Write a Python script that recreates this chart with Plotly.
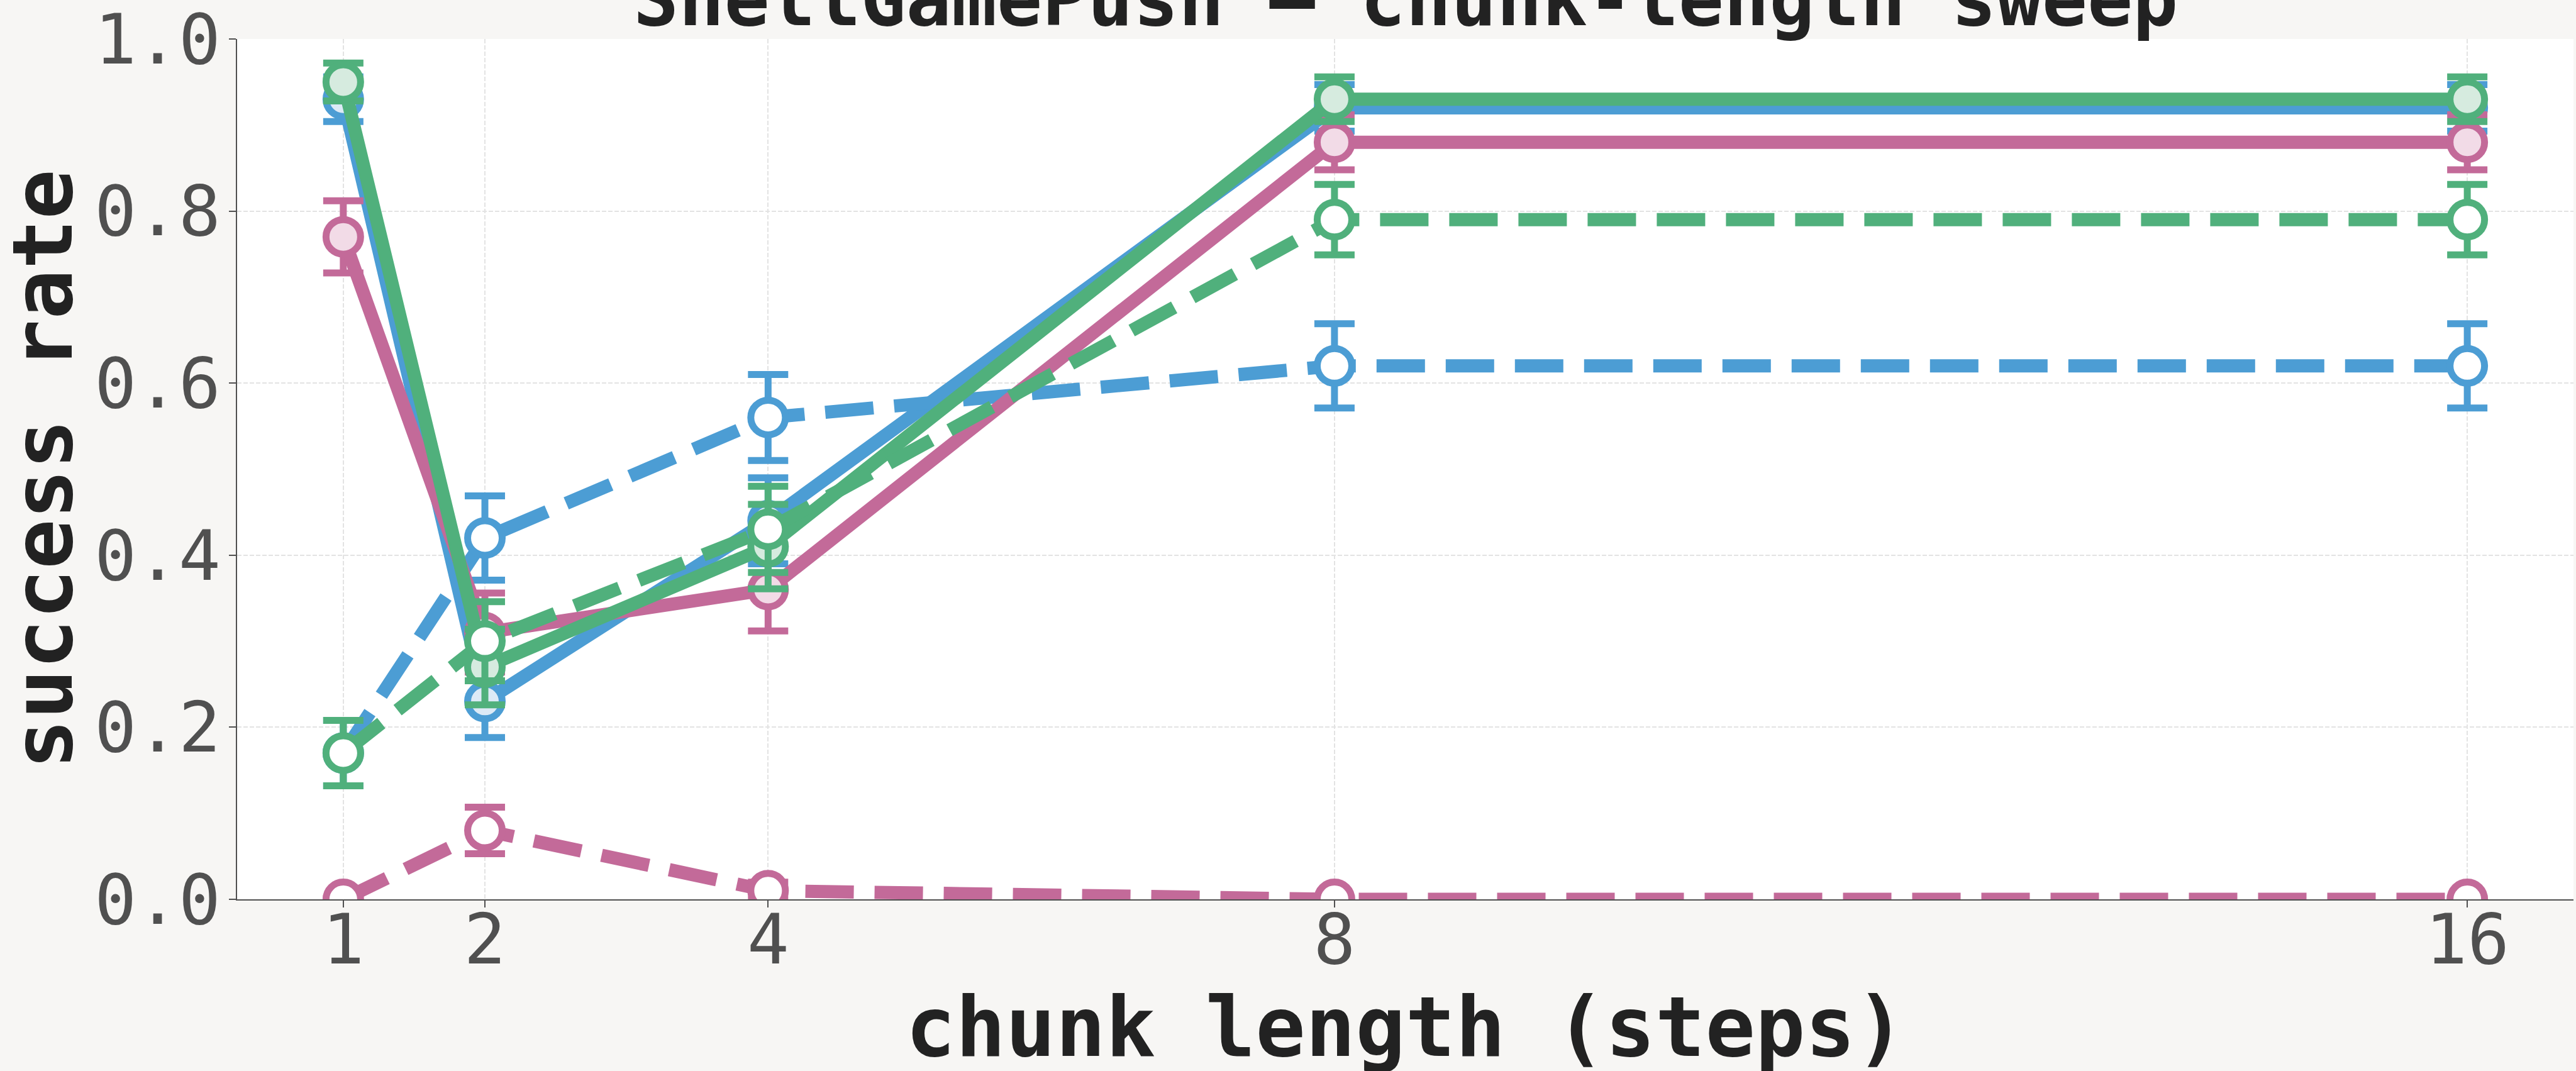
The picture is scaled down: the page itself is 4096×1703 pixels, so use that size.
import plotly.graph_objects as go

# ---------------- data ----------------
chunk_lengths = [1, 2, 4, 8, 16]
y_tick_vals = [0.0, 0.2, 0.4, 0.6, 0.8, 1.0]
y_tick_text = ["0.0", "0.2", "0.4", "0.6", "0.8", "1.0"]

blue_solid = [0.93, 0.23, 0.44, 0.92, 0.92]
blue_solid_err = [0.026, 0.042, 0.050, 0.027, 0.027]
blue_dashed = [0.17, 0.42, 0.56, 0.62, 0.62]
blue_dashed_err = [0.038, 0.049, 0.050, 0.049, 0.049]

pink_solid = [0.77, 0.31, 0.36, 0.88, 0.88]
pink_solid_err = [0.042, 0.046, 0.048, 0.032, 0.032]
pink_dashed = [0.00, 0.08, 0.01, 0.00, 0.00]
pink_dashed_err = [0.0, 0.027, 0.010, 0.0, 0.0]

green_solid = [0.95, 0.27, 0.41, 0.93, 0.93]
green_solid_err = [0.022, 0.044, 0.049, 0.026, 0.026]
green_dashed = [0.17, 0.30, 0.43, 0.79, 0.79]
green_dashed_err = [0.038, 0.046, 0.050, 0.041, 0.041]

title_text = "ShellGamePush — chunk-length sweep"
x_title = "chunk length (steps)"
y_title = "success rate"

# ---------------- style ----------------
BLUE, BLUE_FILL = "#4C9DD4", "#DCEAF6"
PINK, PINK_FILL = "#C36A99", "#F2DBE7"
GREEN, GREEN_FILL = "#50B07C", "#D6EBDF"
LW = 21
DASH = "77px,33px"
MS = 55
MLW = 11
FONT = "DejaVu Sans Mono"
TICK_COLOR = "#505050"
TEXT_COLOR = "#222222"

fig = go.Figure()


def add_series(y, err, color, fill, dashed):
    fig.add_trace(go.Scatter(
        x=chunk_lengths, y=y, mode="lines+markers",
        line=dict(color=color, width=LW, dash=DASH if dashed else "solid"),
        marker=dict(size=MS, color="#FFFFFF" if dashed else fill,
                    line=dict(color=color, width=MLW)),
        error_y=dict(type="data", array=err, visible=True, color=color,
                     thickness=11, width=32),
        showlegend=False, cliponaxis=True,
    ))


add_series(blue_solid, blue_solid_err, BLUE, BLUE_FILL, False)
add_series(blue_dashed, blue_dashed_err, BLUE, BLUE_FILL, True)
add_series(pink_solid, pink_solid_err, PINK, PINK_FILL, False)
add_series(pink_dashed, pink_dashed_err, PINK, PINK_FILL, True)
add_series(green_solid, green_solid_err, GREEN, GREEN_FILL, False)
add_series(green_dashed, green_dashed_err, GREEN, GREEN_FILL, True)

axis_common = dict(
    ticks="outside", ticklen=11, tickwidth=2, tickcolor=TICK_COLOR,
    showline=True, linecolor=TICK_COLOR, linewidth=2, mirror=False,
    showgrid=True, gridcolor="#E3E3E3", gridwidth=1.5, griddash="7px,3px",
    zeroline=False, automargin=False, ticklabeloverflow="allow",
    tickfont=dict(family=FONT, size=111, color=TICK_COLOR),
)

title_font = dict(family=FONT, size=132, color=TEXT_COLOR, weight="bold")

fig.update_layout(
    width=4096, height=1703,
    paper_bgcolor="#F7F6F4", plot_bgcolor="#FFFFFF",
    margin=dict(l=377, r=4, t=62, b=273),
    xaxis=dict(
        range=[0.25, 16.75], tickmode="array", tickvals=chunk_lengths,
        ticktext=[str(v) for v in chunk_lengths],
        ticklabelstandoff=-44,
        **axis_common,
    ),
    yaxis=dict(
        range=[0, 1], tickmode="array", tickvals=y_tick_vals, ticktext=y_tick_text,
        ticklabelstandoff=-9,
        **axis_common,
    ),
    annotations=[
        dict(text=title_text, xref="paper", yref="paper", x=0.5, y=1.0466,
             xanchor="center", yanchor="middle", showarrow=False,
             font=dict(family=FONT, size=120, color=TEXT_COLOR, weight="bold")),
        dict(text=x_title, xref="paper", yref="paper", x=0.5, y=-0.1483,
             xanchor="center", yanchor="middle", showarrow=False, font=title_font),
        dict(text=y_title, xref="paper", yref="paper", x=-0.0832, y=0.5,
             xanchor="center", yanchor="middle", showarrow=False, textangle=-90,
             font=title_font),
    ],
)

fig.write_html(
    "out.html",
    config={"displayModeBar": False},
    post_script="document.body.style.margin='0';document.body.style.overflow='hidden';",
)
